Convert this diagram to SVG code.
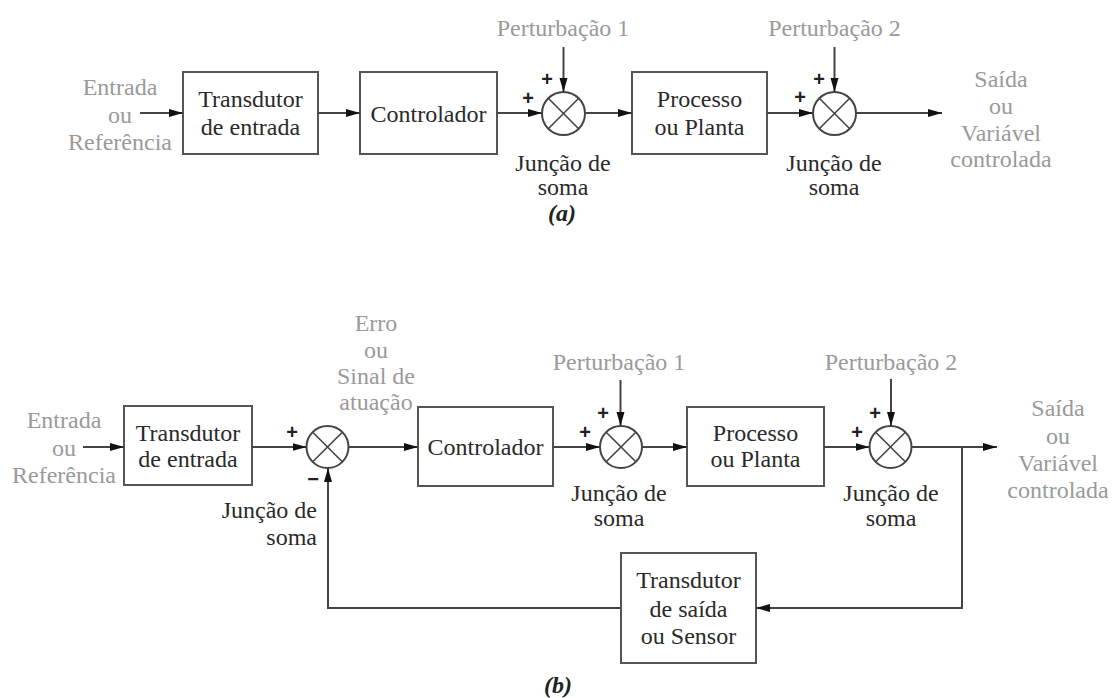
<svg xmlns="http://www.w3.org/2000/svg" width="1114" height="698" viewBox="0 0 1114 698" font-family="'Liberation Serif', 'DejaVu Serif', serif">
<style>
text{font-family:'Liberation Serif','Times New Roman','DejaVu Serif',serif;font-size:24px;text-anchor:middle}
.g{fill:#9a9a9a}
.k{fill:#2a2a2a}
.pl{font-family:'Liberation Sans',Arial,sans-serif;font-size:20px;font-weight:bold;fill:#222}
.cap{font-weight:bold;font-style:italic;fill:#222}
.box{fill:#fff;stroke:#555;stroke-width:2}
.sum{fill:#fff;stroke:#444;stroke-width:2}
.x{stroke:#444;stroke-width:1.6}
.ar{fill:none;stroke:#444;stroke-width:2;marker-end:url(#ah)}
</style>
<defs>
<marker id="ah" markerUnits="userSpaceOnUse" viewBox="0 0 14 10" refX="14" refY="5" markerWidth="14" markerHeight="10" orient="auto">
<path d="M0,1 L14,5 L0,9 z" fill="#111"/>
</marker>
</defs>
<rect width="1114" height="698" fill="#fff"/>

<!-- ===== (a) ===== -->
<g id="a-input">
<text class="g" x="120" y="95">Entrada</text>
<text class="g" x="120" y="123">ou</text>
<text class="g" x="120" y="150">Referência</text>
</g>
<g id="a-transdutor">
<rect class="box" x="183" y="72" width="135" height="82"/>
<text class="k" x="250.5" y="107">Transdutor</text>
<text class="k" x="250.5" y="135">de entrada</text>
</g>
<g id="a-controlador">
<rect class="box" x="360" y="72" width="137" height="82"/>
<text class="k" x="428.5" y="122">Controlador</text>
</g>
<g id="a-soma1">
<circle class="sum" cx="563.5" cy="113.5" r="21.5"/>
<line class="x" x1="548.3" y1="98.3" x2="578.7" y2="128.7"/>
<line class="x" x1="578.7" y1="98.3" x2="548.3" y2="128.7"/>
<text class="pl" x="528" y="105">+</text>
<text class="pl" x="547" y="86">+</text>
<text class="k" x="563" y="171">Junção de</text>
<text class="k" x="563" y="195">soma</text>
</g>
<g id="a-pert1">
<text class="g" x="563" y="36">Perturbação 1</text>
</g>
<g id="a-processo">
<rect class="box" x="632" y="72" width="135" height="82"/>
<text class="k" x="699.5" y="107">Processo</text>
<text class="k" x="699.5" y="135">ou Planta</text>
</g>
<g id="a-soma2">
<circle class="sum" cx="834.5" cy="113.5" r="21.5"/>
<line class="x" x1="819.3" y1="98.3" x2="849.7" y2="128.7"/>
<line class="x" x1="849.7" y1="98.3" x2="819.3" y2="128.7"/>
<text class="pl" x="800" y="104">+</text>
<text class="pl" x="819" y="86">+</text>
<text class="k" x="834" y="171">Junção de</text>
<text class="k" x="834" y="195">soma</text>
</g>
<g id="a-pert2">
<text class="g" x="834.5" y="36">Perturbação 2</text>
</g>
<g id="a-output">
<text class="g" x="1001" y="87">Saída</text>
<text class="g" x="1001" y="114">ou</text>
<text class="g" x="1001" y="141">Variável</text>
<text class="g" x="1001" y="167">controlada</text>
</g>
<g id="a-caption">
<text class="cap" x="562" y="221">(a)</text>
</g>
<g id="a-connectors">
<line class="ar" x1="140" y1="113" x2="183" y2="113"/>
<line class="ar" x1="318" y1="113" x2="360" y2="113"/>
<line class="ar" x1="497" y1="113" x2="542" y2="113"/>
<line class="ar" x1="563.5" y1="47" x2="563.5" y2="92"/>
<line class="ar" x1="585" y1="113" x2="632" y2="113"/>
<line class="ar" x1="767" y1="113" x2="813" y2="113"/>
<line class="ar" x1="834.5" y1="47" x2="834.5" y2="92"/>
<line class="ar" x1="856" y1="113" x2="942" y2="113"/>
</g>

<!-- ===== (b) ===== -->
<g id="b-input">
<text class="g" x="64" y="428">Entrada</text>
<text class="g" x="64" y="456">ou</text>
<text class="g" x="64" y="483">Referência</text>
</g>
<g id="b-transdutor">
<rect class="box" x="124" y="406" width="128" height="79"/>
<text class="k" x="188" y="441">Transdutor</text>
<text class="k" x="188" y="467">de entrada</text>
</g>
<g id="b-soma0">
<circle class="sum" cx="327.5" cy="447" r="21"/>
<line class="x" x1="312.7" y1="432.2" x2="342.3" y2="461.8"/>
<line class="x" x1="342.3" y1="432.2" x2="312.7" y2="461.8"/>
<text class="pl" x="292" y="439">+</text>
<text class="pl" x="313" y="486">−</text>
<text class="k" x="317" y="518" style="text-anchor:end">Junção de</text>
<text class="k" x="317" y="545" style="text-anchor:end">soma</text>
</g>
<g id="b-erro">
<text class="g" x="376" y="331">Erro</text>
<text class="g" x="376" y="358">ou</text>
<text class="g" x="376" y="384">Sinal de</text>
<text class="g" x="376" y="410">atuação</text>
</g>
<g id="b-controlador">
<rect class="box" x="418" y="407" width="135" height="79"/>
<text class="k" x="485.5" y="455">Controlador</text>
</g>
<g id="b-soma1">
<circle class="sum" cx="621" cy="447" r="21"/>
<line class="x" x1="606.2" y1="432.2" x2="635.8" y2="461.8"/>
<line class="x" x1="635.8" y1="432.2" x2="606.2" y2="461.8"/>
<text class="pl" x="585" y="439">+</text>
<text class="pl" x="603" y="420">+</text>
<text class="k" x="619" y="501">Junção de</text>
<text class="k" x="619" y="526">soma</text>
</g>
<g id="b-pert1">
<text class="g" x="619" y="370">Perturbação 1</text>
</g>
<g id="b-processo">
<rect class="box" x="687" y="407" width="137" height="79"/>
<text class="k" x="755.5" y="441">Processo</text>
<text class="k" x="755.5" y="467">ou Planta</text>
</g>
<g id="b-soma2">
<circle class="sum" cx="890.5" cy="447" r="21"/>
<line class="x" x1="875.7" y1="432.2" x2="905.3" y2="461.8"/>
<line class="x" x1="905.3" y1="432.2" x2="875.7" y2="461.8"/>
<text class="pl" x="857" y="439">+</text>
<text class="pl" x="875" y="420">+</text>
<text class="k" x="891" y="501">Junção de</text>
<text class="k" x="891" y="526">soma</text>
</g>
<g id="b-pert2">
<text class="g" x="891" y="370">Perturbação 2</text>
</g>
<g id="b-output">
<text class="g" x="1058" y="416">Saída</text>
<text class="g" x="1058" y="444">ou</text>
<text class="g" x="1058" y="471">Variável</text>
<text class="g" x="1058" y="498">controlada</text>
</g>
<g id="b-sensor">
<rect class="box" x="621" y="553" width="135" height="110"/>
<text class="k" x="688.5" y="588">Transdutor</text>
<text class="k" x="688.5" y="617">de saída</text>
<text class="k" x="688.5" y="644">ou Sensor</text>
</g>
<g id="b-caption">
<text class="cap" x="558" y="693">(b)</text>
</g>
<g id="b-connectors">
<line class="ar" x1="83" y1="447" x2="124" y2="447"/>
<line class="ar" x1="252" y1="447" x2="306.5" y2="447"/>
<line class="ar" x1="348.5" y1="447" x2="418" y2="447"/>
<line class="ar" x1="553" y1="447" x2="600" y2="447"/>
<line class="ar" x1="620.5" y1="380" x2="620.5" y2="426"/>
<line class="ar" x1="642" y1="447" x2="687" y2="447"/>
<line class="ar" x1="824" y1="447" x2="869.5" y2="447"/>
<line class="ar" x1="891" y1="379" x2="891" y2="426"/>
<line class="ar" x1="911.5" y1="447" x2="997" y2="447"/>
<polyline class="ar" points="962,447 962,608 756,608"/>
<polyline class="ar" points="621,608 328,608 328,468"/>
</g>
</svg>
